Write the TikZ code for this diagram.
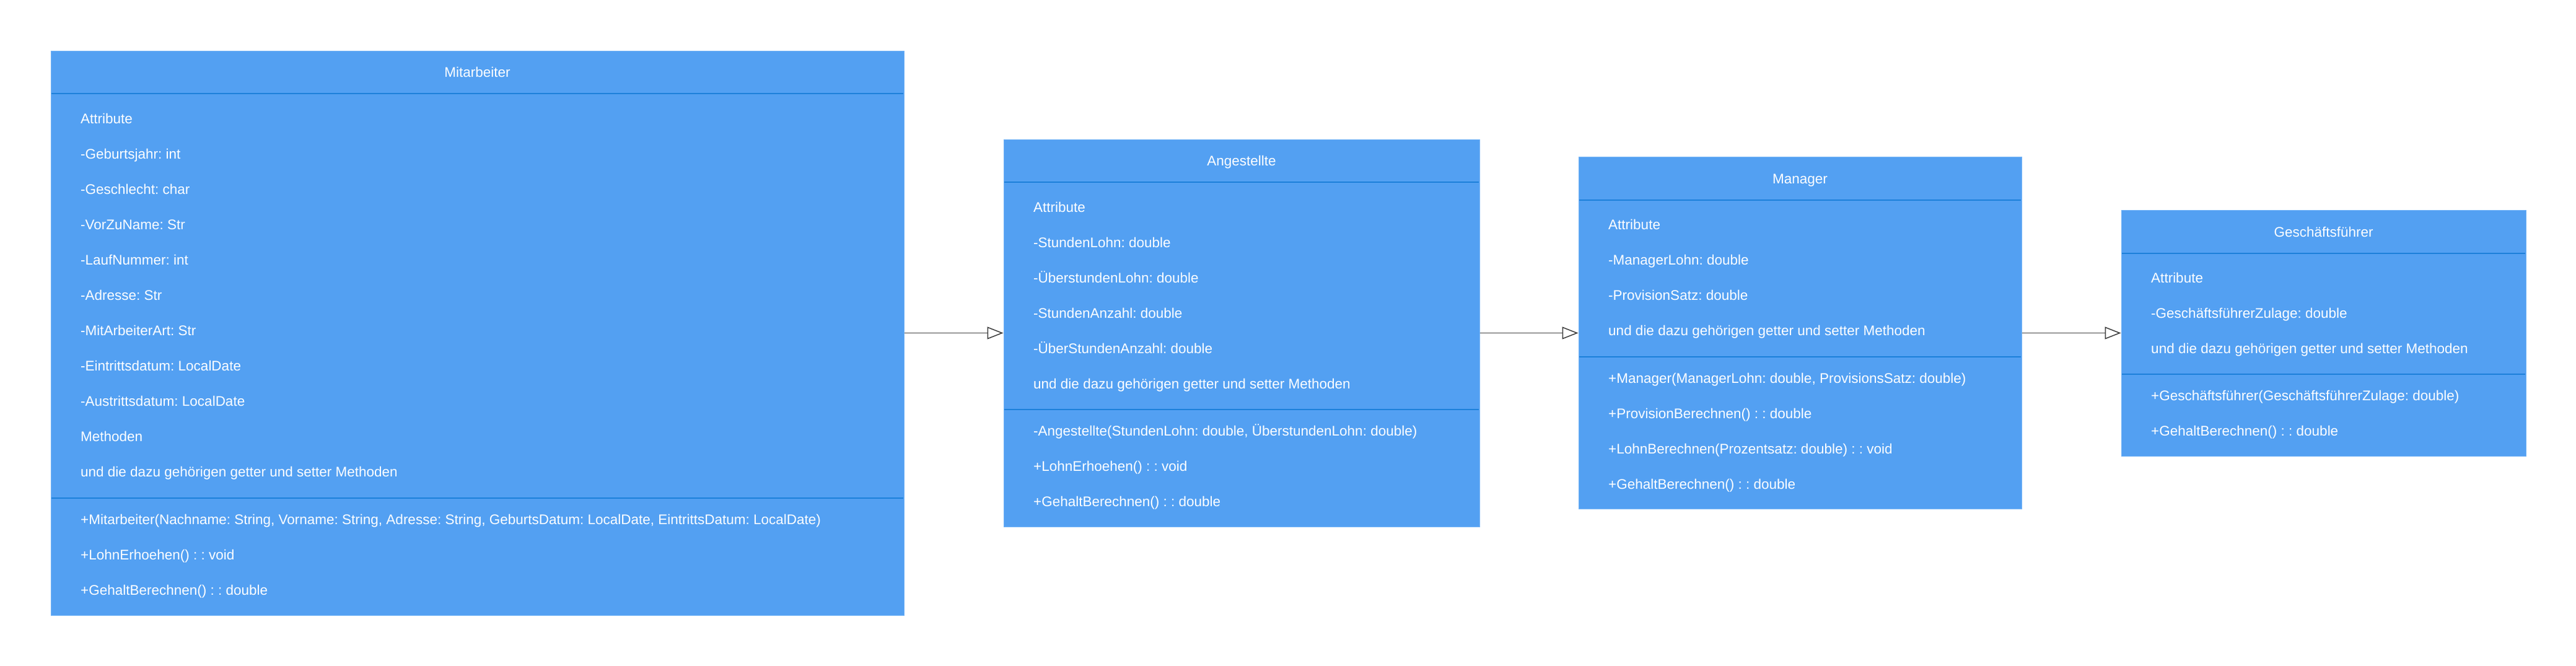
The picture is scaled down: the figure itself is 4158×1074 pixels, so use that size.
\documentclass[tikz,border=0pt]{standalone}
\usepackage{fontspec}
\setmainfont{Liberation Sans}
\usetikzlibrary{arrows.meta}
\frenchspacing

\definecolor{boxfill}{RGB}{83,160,242}
\definecolor{boxedge}{RGB}{112,178,246}
\definecolor{divline}{RGB}{28,128,218}
\definecolor{linegray}{RGB}{60,60,60}
\newcommand{\umlfont}{\fontsize{22.5}{27}\selectfont}

\tikzset{
	classbox/.style={draw=boxedge, fill=boxfill, line width=1pt, inner sep=0pt},
	classtitle/.style={text=white, font=\umlfont, anchor=base, inner sep=0pt},
	member/.style={text=white, font=\umlfont, anchor=base west, inner sep=0pt},
	divider/.style={draw=divline, line width=2.5pt},
	inherit/.style={draw=linegray, line width=1.5pt, -{Triangle[open, length=26pt, width=20pt, fill=white]}}
}

\begin{document}
\begin{tikzpicture}[x=1pt, y=-1pt]
		\useasboundingbox (0,0) rectangle (4158,1074);
		\fill[white] (0,0) rectangle (4158,1074);
		
		% class boxes
		\node[classbox, minimum width=1377pt, minimum height=911pt] (mitarbeiter) at (770.5,537.5) {};
		\node[classbox, minimum width=768pt, minimum height=625pt] (angestellte) at (2004,537.5) {};
		\node[classbox, minimum width=715pt, minimum height=568pt] (manager) at (2905.5,537.5) {};
		\node[classbox, minimum width=653pt, minimum height=397pt] (gf) at (3750.5,537.5) {};
		
		% compartments
		\draw[divider] (83,151) -- (1458,151);
		\draw[divider] (83,804) -- (1458,804);
		\draw[divider] (1621,294) -- (2387,294);
		\draw[divider] (1621,661) -- (2387,661);
		\draw[divider] (2549,323) -- (3262,323);
		\draw[divider] (2549,576) -- (3262,576);
		\draw[divider] (3425,409) -- (4076,409);
		\draw[divider] (3425,604) -- (4076,604);
		
		% titles
		\node[classtitle] (mitarbeitertitle) at (770.5,124.5) {Mitarbeiter};
		\node[classtitle] (angestelltetitle) at (2004,267.5) {Angestellte};
		\node[classtitle] (managertitle) at (2905.5,296) {Manager};
		\node[classtitle] (gftitle) at (3750.5,382) {Geschäftsführer};
		
		% Mitarbeiter
		\foreach \txt [count=\i] in {Attribute, -Geburtsjahr: int, -Geschlecht: char, -VorZuName: Str, -LaufNummer: int, -Adresse: Str, -MitArbeiterArt: Str, -Eintrittsdatum: LocalDate, -Austrittsdatum: LocalDate, Methoden, und die dazu gehörigen getter und setter Methoden}
			\node[member] (mitattr\i) at (130,{142+57*\i}) {\txt};
		\foreach \txt [count=\i] in {{+Mitarbeiter(Nachname: String, Vorname: String, Adresse: String, GeburtsDatum: LocalDate, EintrittsDatum: LocalDate)}, +LohnErhoehen() : : void, +GehaltBerechnen() : : double}
			\node[member] (mitmeth\i) at (130,{789+57*\i}) {\txt};
		
		% Angestellte
		\foreach \txt [count=\i] in {Attribute, -StundenLohn: double, -ÜberstundenLohn: double, -StundenAnzahl: double, -ÜberStundenAnzahl: double, und die dazu gehörigen getter und setter Methoden}
			\node[member] (angattr\i) at (1668,{285+57*\i}) {\txt};
		\foreach \txt [count=\i] in {{-Angestellte(StundenLohn: double, ÜberstundenLohn: double)}, +LohnErhoehen() : : void, +GehaltBerechnen() : : double}
			\node[member] (angmeth\i) at (1668,{646+57*\i}) {\txt};
		
		% Manager
		\foreach \txt [count=\i] in {Attribute, -ManagerLohn: double, -ProvisionSatz: double, und die dazu gehörigen getter und setter Methoden}
			\node[member] (manattr\i) at (2596,{313+57*\i}) {\txt};
		\foreach \txt [count=\i] in {{+Manager(ManagerLohn: double, ProvisionsSatz: double)}, +ProvisionBerechnen() : : double, +LohnBerechnen(Prozentsatz: double) : : void, +GehaltBerechnen() : : double}
			\node[member] (manmeth\i) at (2596,{561+57*\i}) {\txt};
		
		% Geschaeftsfuehrer
		\foreach \txt [count=\i] in {Attribute, -GeschäftsführerZulage: double, und die dazu gehörigen getter und setter Methoden}
			\node[member] (gfattr\i) at (3472,{399+57*\i}) {\txt};
		\foreach \txt [count=\i] in {+Geschäftsführer(GeschäftsführerZulage: double), +GehaltBerechnen() : : double}
			\node[member] (gfmeth\i) at (3472,{589+57*\i}) {\txt};
		
		% inheritance
		\draw[inherit] (mitarbeiter.east) -- (angestellte.west);
		\draw[inherit] (angestellte.east) -- (manager.west);
		\draw[inherit] (manager.east) -- (gf.west);
	\end{tikzpicture}
\end{document}
